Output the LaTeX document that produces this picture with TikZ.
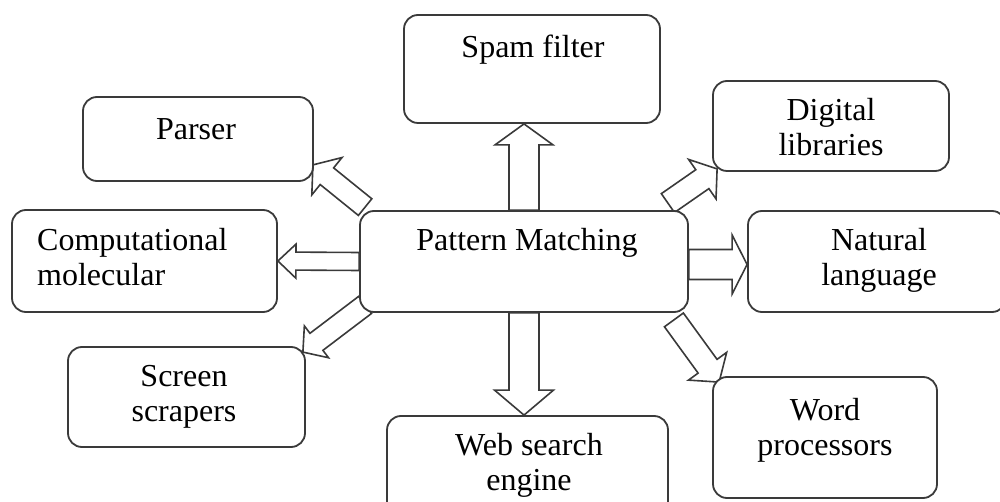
\documentclass[tikz,border=0pt]{standalone}
\usepackage{fontspec}
\setmainfont{Liberation Serif}
\usetikzlibrary{calc,backgrounds}
\definecolor{linegray}{HTML}{3A3A3A}
\tikzset{
  box/.style={draw=linegray, line width=1.8pt, rounded corners=14pt, fill=white, inner sep=0pt},
  lbl/.style={inner sep=0pt, anchor=base, align=center, font=\fontsize{32}{35}\selectfont, text=black},
  arrowline/.style={draw=linegray, line width=1.6pt, fill=white, line join=miter},
}
% #1 start, #2 tip, #3 half shaft width, #4 half head width, #5 head length
\newcommand\blockarrow[5]{%
  \path (#1) coordinate (ba-s) (#2) coordinate (ba-e);
  \path ($(ba-e)!#5!(ba-s)$) coordinate (ba-h);
  \draw[arrowline] ($(ba-s)!#3!90:(ba-e)$) -- ($(ba-h)!#3!90:(ba-e)$)
    -- ($(ba-h)!#4!90:(ba-e)$) -- (ba-e) -- ($(ba-h)!#4!-90:(ba-e)$)
    -- ($(ba-h)!#3!-90:(ba-e)$) -- ($(ba-s)!#3!-90:(ba-e)$) -- cycle;
}
\begin{document}
\begin{tikzpicture}[x=1pt,y=-1pt]
\useasboundingbox (0,0) rectangle (1000,502);
% boxes
\node[box, minimum width=256, minimum height=108] (spam) at (532,69) {};
\node[box, minimum width=230, minimum height=84] (parser) at (198,139) {};
\node[box, minimum width=236, minimum height=90] (digital) at (831,126) {};
\node[box, minimum width=328, minimum height=101] (pm) at (524,261.5) {};
\node[box, minimum width=265, minimum height=102] (comp) at (144.5,261) {};
\node[box, minimum width=258, minimum height=101] (natural) at (877,261.5) {};
\node[box, minimum width=237, minimum height=100] (screen) at (186.5,397) {};
\node[box, minimum width=281, minimum height=104] (web) at (527.5,468) {};
\node[box, minimum width=224, minimum height=121] (word) at (825,437.5) {};
% texts (base = baseline of the last line)
\node[lbl] (spamtext) at (533,58) {Spam filter};
\node[lbl] (parsertext) at (196,140) {Parser};
\node[lbl] (digitaltext) at (831,156) {Digital\\libraries};
\node[lbl] (pmtext) at (527,251) {Pattern Matching};
\node[lbl, anchor=base west, align=left] (comptext) at (37,286) {Computational\\molecular};
\node[lbl] (naturaltext) at (879,286) {Natural\\language};
\node[lbl] (screentext) at (184,421) {Screen\\scrapers};
\node[lbl] (webtext) at (529,490) {Web search\\engine};
\node[lbl] (wordtext) at (825,455) {Word\\processors};
% block arrows
\begin{pgfonlayer}{background}
\blockarrow{pm.north}{pm.north |- spam.south}{15pt}{29pt}{21pt}
\blockarrow{pm.south}{pm.south |- web.north}{15pt}{29.5pt}{25pt}
\blockarrow{pm.west}{comp.east}{9pt}{17pt}{18pt}
\blockarrow{$(pm.east)+(0,3)$}{$(natural.west)+(0,3)$}{15pt}{29.5pt}{15pt}
\blockarrow{$(pm.north west)+(6,-3)$}{$(parser.south east)+(-1,-17)$}{10.7pt}{24pt}{18pt}
\blockarrow{$(pm.north east)+(-21,-7)$}{$(digital.south west)+(5,-3)$}{11.5pt}{24pt}{18pt}
\blockarrow{$(pm.south west)+(6,-8)$}{$(screen.north east)+(-3,6)$}{10.7pt}{20pt}{17pt}
\blockarrow{$(pm.south east)+(-15,7)$}{$(word.north west)+(7,6)$}{11.7pt}{23.6pt}{19.6pt}
\end{pgfonlayer}
\end{tikzpicture}
\end{document}
